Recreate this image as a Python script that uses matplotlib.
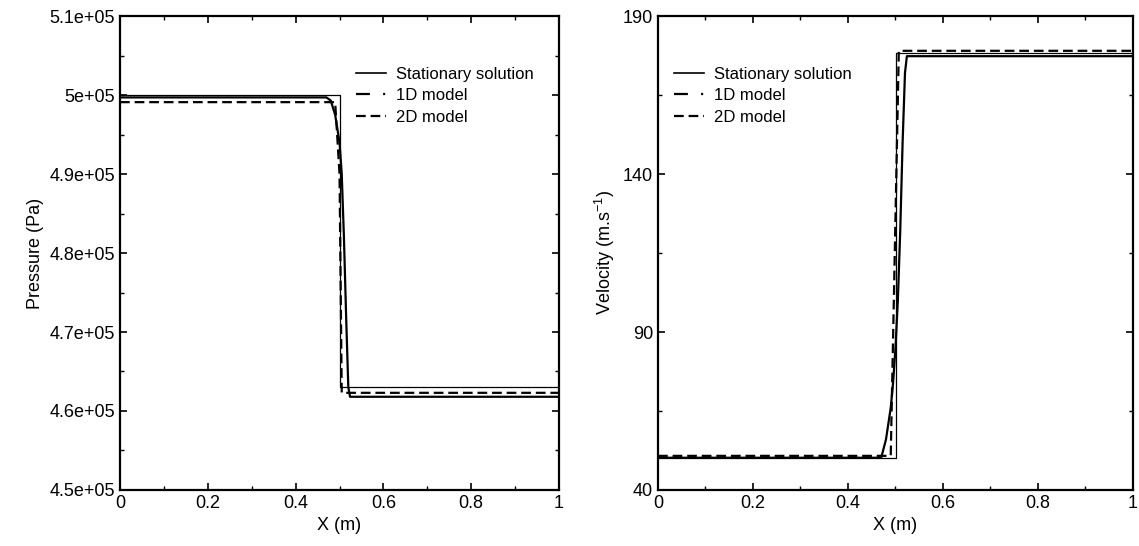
import numpy as np
import matplotlib.pyplot as plt
from matplotlib.lines import Line2D
from matplotlib.ticker import MultipleLocator, FuncFormatter

plt.rcParams['font.family'] = ['Liberation Sans', 'DejaVu Sans']
plt.rcParams['mathtext.fontset'] = 'custom'
plt.rcParams['mathtext.rm'] = 'Liberation Sans'
plt.rcParams['lines.scale_dashes'] = False

# ---- pressure panel data
x_stat_p = [0.0, 0.5, 0.5, 1.0]
p_stat = [5.000e5, 5.000e5, 4.630e5, 4.630e5]

x_1d_p = [0.0, 0.47, 0.48, 0.49, 0.50, 0.505, 0.51, 0.515, 0.52, 0.524, 1.0]
p_1d = [4.997e5, 4.997e5, 4.993e5, 4.975e5, 4.94e5, 4.90e5, 4.82e5, 4.72e5, 4.63e5, 4.618e5, 4.618e5]

x_2d_p = [0.0, 0.49, 0.50, 0.505, 1.0]
p_2d = [4.991e5, 4.991e5, 4.90e5, 4.623e5, 4.623e5]

# ---- velocity panel data
x_stat_v = [0.0, 0.502, 0.502, 1.0]
v_stat = [50.2, 50.2, 178.4, 178.4]

x_1d_v = [0.0, 0.47, 0.48, 0.49, 0.495, 0.50, 0.505, 0.51, 0.515, 0.52, 0.524, 1.0]
v_1d = [50.2, 50.2, 56.0, 66.0, 74.0, 85.0, 100.0, 122.0, 150.0, 172.0, 177.3, 177.3]

x_2d_v = [0.0, 0.49, 0.507, 1.0]
v_2d = [50.8, 50.8, 179.0, 179.0]

labels = ['Stationary solution', '1D model', '2D model']
p_ticks = [4.5e5, 4.6e5, 4.7e5, 4.8e5, 4.9e5, 5.0e5, 5.1e5]
v_ticks = [40, 90, 140, 190]

fig = plt.figure(figsize=(11.39, 5.46), dpi=100)
ax1 = fig.add_axes([0.1054, 0.1026, 0.3854, 0.868])
ax2 = fig.add_axes([0.5777, 0.1026, 0.4170, 0.868])

def style(ax):
    ax.tick_params(which='both', direction='in', top=True, right=True, labelsize=13)
    ax.tick_params(which='major', length=5, width=1.2)
    ax.tick_params(which='minor', length=3, width=1.0)
    for s in ax.spines.values():
        s.set_linewidth(1.6)
    ax.set_xlim(0, 1)
    ax.xaxis.set_major_locator(MultipleLocator(0.2))
    ax.xaxis.set_minor_locator(MultipleLocator(0.1))
    ax.xaxis.set_major_formatter(FuncFormatter(lambda v, p: '%g' % round(v, 2)))
    ax.set_xlabel('X (m)', fontsize=13)

# pressure
ax1.plot(x_stat_p, p_stat, '-', color='black', lw=0.9)
ax1.plot(x_1d_p, p_1d, '-', color='black', lw=1.6)
ax1.plot(x_2d_p, p_2d, color='black', lw=1.6, dashes=(7, 3.5))
ax1.set_ylim(4.5e5, 5.1e5)
ax1.set_yticks(p_ticks)
ax1.yaxis.set_minor_locator(MultipleLocator(5e3))
ax1.yaxis.set_major_formatter(FuncFormatter(lambda v, p: '%ge+05' % round(v / 1e5, 2)))
ax1.set_ylabel('Pressure (Pa)', fontsize=13)
style(ax1)

# velocity
ax2.plot(x_stat_v, v_stat, '-', color='black', lw=0.9)
ax2.plot(x_1d_v, v_1d, '-', color='black', lw=1.6)
ax2.plot(x_2d_v, v_2d, color='black', lw=1.6, dashes=(7, 3.5))
ax2.set_ylim(40, 190)
ax2.set_yticks(v_ticks)
ax2.set_yticks([65, 115, 165], minor=True)
ax2.set_ylabel('Velocity (m.s$^{-1}$)', fontsize=13)
style(ax2)

handles = [Line2D([], [], color='black', lw=1.2),
           Line2D([], [], color='black', lw=1.6, dashes=(10, 9.5, 1.5, 20)),
           Line2D([], [], color='black', lw=1.6, dashes=(7, 3.5))]
for ax, loc in [(ax1, (0.51, 0.918)), (ax2, (0.01, 0.918))]:
    ax.legend(handles, labels, loc='upper left', bbox_to_anchor=loc, frameon=False,
              fontsize=12, handlelength=1.8, handletextpad=0.6, labelspacing=0.4,
              borderaxespad=0.3)

fig.savefig('out.png', dpi=100)
